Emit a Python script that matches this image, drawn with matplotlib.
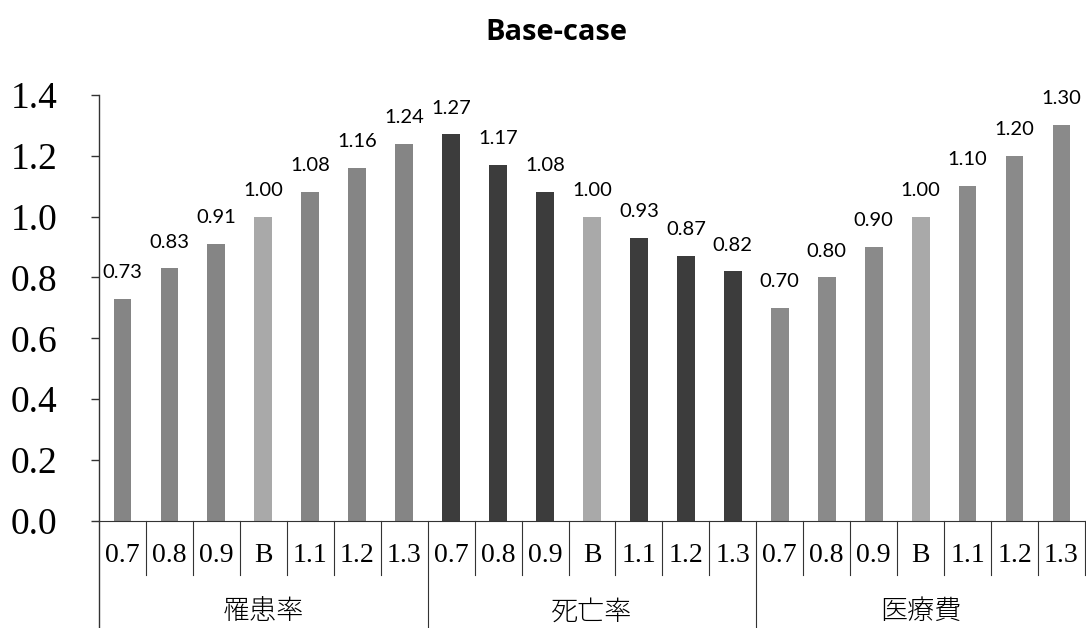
import matplotlib
matplotlib.use("Agg")
import matplotlib.pyplot as plt
import matplotlib.transforms as mtransforms

# sensitivity factors for each parameter group
groups = ["罹患率", "死亡率", "医療費"]
factors = ["0.7", "0.8", "0.9", "B", "1.1", "1.2", "1.3"]
incidence = [0.73, 0.83, 0.91, 1.00, 1.08, 1.16, 1.24]
mortality = [1.27, 1.17, 1.08, 1.00, 0.93, 0.87, 0.82]
medical_cost = [0.70, 0.80, 0.90, 1.00, 1.10, 1.20, 1.30]
values = incidence + mortality + medical_cost

group_colors = ["#858585", "#3c3c3c", "#8a8a8a"]
base_color = "#a9a9a9"

fig = plt.figure(figsize=(10.86, 6.28), dpi=100)
ax = fig.add_axes([0.0912, 0.1704, 0.9078, 0.6786])

n = len(factors)
xs = list(range(len(values)))
colors = []
for g in range(len(groups)):
    for f in factors:
        colors.append(base_color if f == "B" else group_colors[g])

bars = ax.bar(xs, values, width=0.38, color=colors, zorder=2)
for x, v in zip(xs, values):
    ax.annotate(f"{v:.2f}", (x, v), xytext=(0, 15), textcoords="offset points",
                ha="center", va="baseline", fontsize=14.5, family="Lato")

ax.set_xlim(-0.5, len(values) - 0.5)
ax.set_ylim(0, 1.4)
ax.set_yticks([0, 0.2, 0.4, 0.6, 0.8, 1.0, 1.2, 1.4])
ax.set_yticklabels([f"{t:.1f}" for t in ax.get_yticks()], family="Liberation Serif", fontsize=27)
ax.tick_params(axis="y", direction="out", length=6, width=1, pad=24, color="#333333")
ax.set_xticks([])

for side in ["top", "right"]:
    ax.spines[side].set_visible(False)
ax.spines["bottom"].set_color("#333333")
ax.spines["left"].set_visible(False)

# table-style category axis below the plot
trans = mtransforms.blended_transform_factory(ax.transData, ax.transAxes)
cell_depth = -0.127
full_depth = -0.26
ax.plot([-0.5, -0.5], [1.0, full_depth], transform=trans, color="#333333", lw=1, clip_on=False)
for i in range(1, len(values) + 1):
    xb = i - 0.5
    depth = full_depth if i % n == 0 and i < len(values) else cell_depth
    ax.plot([xb, xb], [0, depth], transform=trans, color="#333333", lw=0.8, clip_on=False)

for i, x in enumerate(xs):
    ax.text(x, -0.082, factors[i % n], transform=trans, ha="center", va="center",
            family="Liberation Serif", fontsize=20)

for g, name in enumerate(groups):
    ax.text(g * n + (n - 1) / 2, -0.212, name, transform=trans, ha="center", va="center",
            family="Noto Sans CJK JP", fontsize=19.5, fontweight="light")

fig.text(0.512, 1 - 32 / 628, "Base-case", ha="center", va="center",
         family="Open Sans", fontweight="bold", fontsize=21)

fig.savefig("out.png", dpi=100)
